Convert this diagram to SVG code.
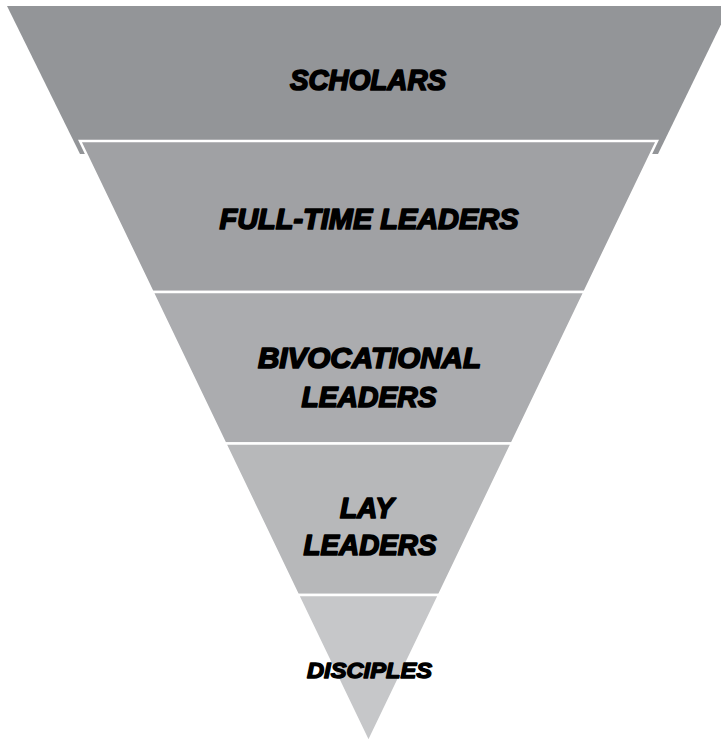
<svg xmlns="http://www.w3.org/2000/svg" width="721" height="744" viewBox="0 0 721 744">
  <style>
    .band { stroke: #ffffff; stroke-width: 2.5; stroke-linejoin: miter; }
    .lbl { font-family: "Liberation Sans", Arial, sans-serif; font-weight: bold; font-style: italic; font-size: 29px; fill: #000; stroke: #000; stroke-width: 1.7; stroke-linejoin: round; text-anchor: middle; }
  </style>
  <rect x="0" y="0" width="721" height="744" fill="#ffffff"/>
  <g id="scholars">
    <polygon points="7,6 730,6 658,154 80,154" fill="#939598"/>
    <text class="lbl" x="368" y="89.5" textLength="156" lengthAdjust="spacingAndGlyphs">SCHOLARS</text>
  </g>
  <g id="full-time-leaders">
    <polygon class="band" points="80,141 657,141 584.5,292 152.5,292" fill="#a0a1a4"/>
    <text class="lbl" x="369" y="228.5" textLength="299" lengthAdjust="spacingAndGlyphs">FULL-TIME LEADERS</text>
  </g>
  <g id="bivocational-leaders">
    <polygon class="band" points="152.5,292 584.5,292 511.8,443.5 225.2,443.5" fill="#abacaf"/>
    <text class="lbl" x="369.5" y="367.5" textLength="223" lengthAdjust="spacingAndGlyphs">BIVOCATIONAL</text>
    <text class="lbl" x="369" y="406.5" textLength="135" lengthAdjust="spacingAndGlyphs">LEADERS</text>
  </g>
  <g id="lay-leaders">
    <polygon class="band" points="225.2,443.5 511.8,443.5 439.1,595 297.9,595" fill="#b7b8ba"/>
    <text class="lbl" x="367" y="517.5" textLength="54" lengthAdjust="spacingAndGlyphs">LAY</text>
    <text class="lbl" x="370" y="554.5" textLength="133" lengthAdjust="spacingAndGlyphs">LEADERS</text>
  </g>
  <g id="disciples">
    <polygon class="band" points="297.9,595 439.1,595 368.5,742" fill="#c6c7c9"/>
    <text class="lbl" x="369.5" y="677.5" style="font-size:22px;stroke-width:1.4" textLength="125" lengthAdjust="spacingAndGlyphs">DISCIPLES</text>
  </g>
</svg>
